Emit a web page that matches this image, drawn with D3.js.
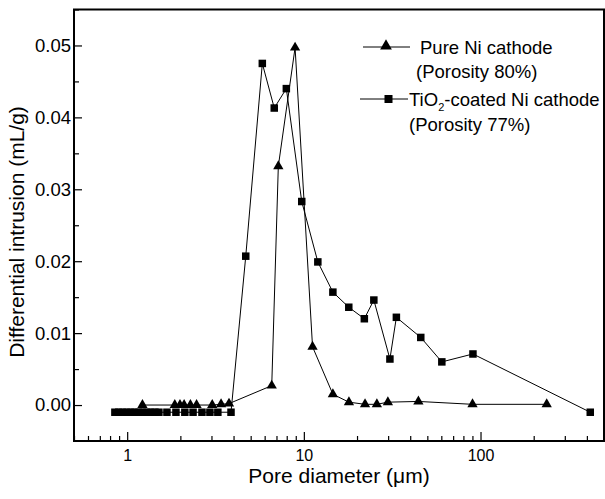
<!DOCTYPE html>
<html>
<head>
<meta charset="utf-8">
<script src="https://cdn.jsdelivr.net/npm/d3@7"></script>
<style>
  body { margin: 0; background: #fff; }
  svg { display: block; font-family: "Liberation Sans", Arial, sans-serif; }
</style>
</head>
<body>
<div id="chart"></div>
<script>
// Pure Ni cathode (triangles)
const niX = [1.22, 1.86, 1.99, 2.10, 2.28, 2.47, 3.03, 3.40, 3.77, 6.58, 7.17, 8.92, 11.2, 14.6, 18.0, 22.2, 25.9, 29.9, 44.5, 90.1, 237];
const niY = [0.0000, 0.0000, 0.0000, 0.0000, 0.0000, 0.0000, 0.0000, 0.0001, 0.0002, 0.0027, 0.0332, 0.0497, 0.0081, 0.0015, 0.0004, 0.0001, 0.0001, 0.0004, 0.0005, 0.0001, 0.0001];

// TiO2-coated Ni cathode (squares)
const tiX = [0.852, 0.897, 0.945, 0.996, 1.049, 1.105, 1.165, 1.227, 1.293, 1.362, 1.435, 1.512, 1.679, 1.888, 2.12, 2.36, 2.65, 2.94, 3.26, 3.87,
             4.69, 5.82, 6.80, 7.96, 9.73, 12.0, 14.6, 17.96, 22.0, 24.9, 30.7, 33.4, 45.9, 60.4, 90.6, 418];
const tiY = [-0.001, -0.001, -0.001, -0.001, -0.001, -0.001, -0.001, -0.001, -0.001, -0.001, -0.001, -0.001, -0.001, -0.001, -0.001, -0.001, -0.001, -0.001, -0.001, -0.001,
             0.0207, 0.0475, 0.0413, 0.0440, 0.0283, 0.0199, 0.0157, 0.0136, 0.0120, 0.0146, 0.0064, 0.0122, 0.0094, 0.0060, 0.0071, -0.001];

const xTicks = [1, 10, 100];
const yTicks = [0.00, 0.01, 0.02, 0.03, 0.04, 0.05];

const W = 605, H = 499;
const plot = { left: 74, right: 604, top: 9.5, bottom: 441 };

const svg = d3.select("#chart").append("svg")
  .attr("width", W)
  .attr("height", H);

const x = d3.scaleLog().domain([0.5, 500]).range([plot.left, plot.right]);
const y = d3.scaleLinear().domain([-0.005, 0.055]).range([plot.bottom, plot.top]);

// minor ticks
const xMinor = [];
[0.1, 1, 10, 100].forEach(dec => {
  for (let k = 2; k <= 9; k++) {
    const v = k * dec;
    if (v >= 0.5 && v <= 500) xMinor.push(v);
  }
});
const yMinor = d3.range(0, 11).map(i => -0.005 + i * 0.01).filter(v => v > -0.005);

svg.append("g")
  .attr("transform", `translate(0,${plot.bottom})`)
  .call(d3.axisBottom(x).tickValues(xMinor).tickSize(-5).tickFormat(""))
  .call(g => g.select(".domain").remove())
  .call(g => g.selectAll("line").attr("stroke", "#000").attr("stroke-width", 1.2));

svg.append("g")
  .attr("transform", `translate(0,${plot.bottom})`)
  .call(d3.axisBottom(x).tickValues(xTicks).tickSize(-9).tickPadding(9).tickFormat(d3.format("d")))
  .call(g => g.select(".domain").remove())
  .call(g => g.selectAll("line").attr("stroke", "#000").attr("stroke-width", 1.2))
  .call(g => g.selectAll("text").attr("fill", "#000").style("font-size", "16px").style("font-family", "Liberation Sans, Arial, sans-serif"));

svg.append("g")
  .attr("transform", `translate(${plot.left},0)`)
  .call(d3.axisLeft(y).tickValues(yMinor).tickSize(-5).tickFormat(""))
  .call(g => g.select(".domain").remove())
  .call(g => g.selectAll("line").attr("stroke", "#000").attr("stroke-width", 1.2));

svg.append("g")
  .attr("transform", `translate(${plot.left},0)`)
  .call(d3.axisLeft(y).tickValues(yTicks).tickSize(-8).tickPadding(3).tickFormat(d3.format(".2f")))
  .call(g => g.select(".domain").remove())
  .call(g => g.selectAll("line").attr("stroke", "#000").attr("stroke-width", 1.2))
  .call(g => g.selectAll("text").attr("fill", "#000").style("font-size", "18.5px").style("font-family", "Liberation Sans, Arial, sans-serif"));

// frame
svg.append("rect")
  .attr("x", plot.left)
  .attr("y", plot.top)
  .attr("width", plot.right - plot.left)
  .attr("height", plot.bottom - plot.top)
  .attr("fill", "none")
  .attr("stroke", "#000")
  .attr("stroke-width", 2);

const line = d3.line().x(d => x(d[0])).y(d => y(d[1]));
const tiData = tiX.map((v, i) => [v, tiY[i]]);
const niData = niX.map((v, i) => [v, niY[i]]);

const tri = d3.symbol().type(d3.symbolTriangle).size(46);
const sq = 7.5;

// TiO2 series
svg.append("path")
  .datum(tiData)
  .attr("d", line)
  .attr("fill", "none")
  .attr("stroke", "#000")
  .attr("stroke-width", 1);

svg.append("g").selectAll("rect")
  .data(tiData)
  .join("rect")
  .attr("x", d => x(d[0]) - sq / 2)
  .attr("y", d => y(d[1]) - sq / 2)
  .attr("width", sq)
  .attr("height", sq)
  .attr("fill", "#000");

// Pure Ni series
svg.append("path")
  .datum(niData)
  .attr("d", line)
  .attr("fill", "none")
  .attr("stroke", "#000")
  .attr("stroke-width", 1);

svg.append("g").selectAll("path")
  .data(niData)
  .join("path")
  .attr("transform", d => `translate(${x(d[0])},${y(d[1])})`)
  .attr("d", tri)
  .attr("fill", "#000");

// legend
const lg = svg.append("g").style("font-size", "18.5px").attr("fill", "#000");

lg.append("line").attr("x1", 363).attr("x2", 410).attr("y1", 47).attr("y2", 47).attr("stroke", "#000");
lg.append("path").attr("transform", "translate(386,46)").attr("d", d3.symbol().type(d3.symbolTriangle).size(60)).attr("fill", "#000");
lg.append("text").attr("x", 420).attr("y", 54).text("Pure Ni cathode");
lg.append("text").attr("x", 416).attr("y", 78).text("(Porosity 80%)");

lg.append("line").attr("x1", 360).attr("x2", 408).attr("y1", 99).attr("y2", 99).attr("stroke", "#000");
lg.append("rect").attr("x", 384.5).attr("y", 95).attr("width", 8).attr("height", 8).attr("fill", "#000");
const t2 = lg.append("text").attr("x", 409).attr("y", 106);
t2.append("tspan").text("TiO");
t2.append("tspan").attr("dy", 5).style("font-size", "11px").text("2");
t2.append("tspan").attr("dy", -5).text("-coated Ni cathode");
lg.append("text").attr("x", 409).attr("y", 131).text("(Porosity 77%)");

// axis titles
svg.append("text")
  .attr("x", 339)
  .attr("y", 483)
  .attr("text-anchor", "middle")
  .style("font-size", "21px")
  .text("Pore diameter (\u03bcm)");

svg.append("text")
  .attr("transform", "translate(24,232) rotate(-90)")
  .attr("text-anchor", "middle")
  .style("font-size", "21px")
  .text("Differential intrusion (mL/g)");
</script>
</body>
</html>
